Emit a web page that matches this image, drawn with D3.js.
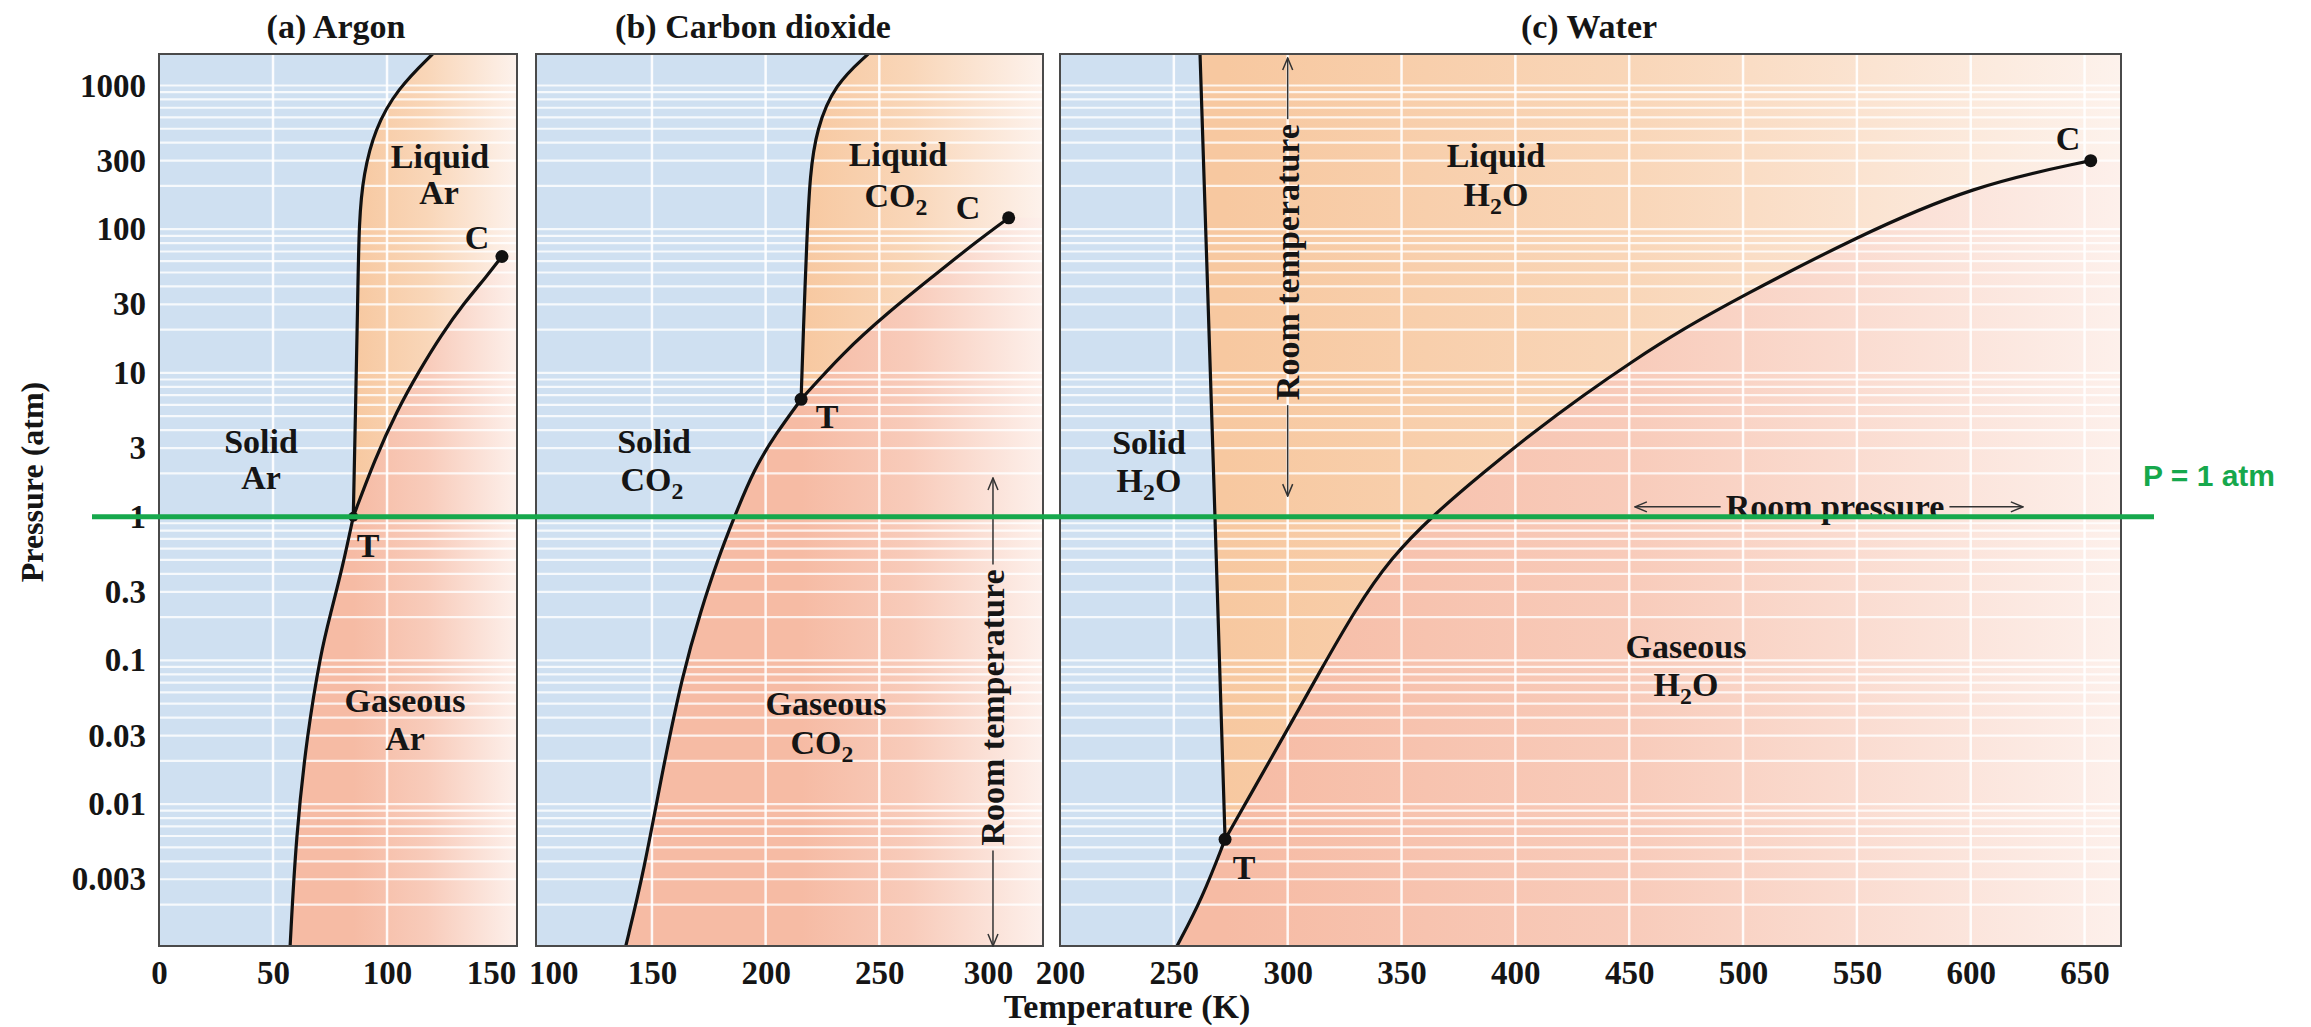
<!DOCTYPE html>
<html>
<head>
<meta charset="utf-8">
<script src="https://cdn.jsdelivr.net/npm/d3@7"></script>
<style>
body { margin: 0; background: #fff; }
svg text { font-family: "Liberation Serif", "Times New Roman", serif; font-weight: bold; fill: #151515; }
</style>
</head>
<body>
<svg id="chart" width="2311" height="1027"></svg>
<script>
// pressure axis (atm), shared by the three panels
const pressureTicks = [0.003, 0.01, 0.03, 0.1, 0.3, 1, 3, 10, 30, 100, 300, 1000];
const pressureLabels = ["0.003", "0.01", "0.03", "0.1", "0.3", "1", "3", "10", "30", "100", "300", "1000"];
const pressureDomain = [0.00103, 1656];

// argon, [K, atm]
const argonTicks = [0, 50, 100, 150];
const argonGrid = [50, 100];
const argonDomain = [0, 157];
const argonSublimation = [[57.5, 0.00103], [60.1, 0.006], [64.9, 0.0303], [71.1, 0.116], [75, 0.204], [80.5, 0.447], [85.2, 1.0]];
const argonMelting = [[85.2, 1.0], [86.3, 6.8], [87.1, 28.4], [87.7, 118.6], [89.7, 242], [94.6, 496], [104.4, 945], [120, 1656]];
const argonVapor = [[85.2, 1.0], [94.6, 2.5], [104.4, 5.48], [114.2, 10.4], [123.9, 18.5], [133.7, 30.5], [143.6, 46.8], [150.4, 64.6]];

// carbon dioxide
const co2Ticks = [100, 150, 200, 250, 300];
const co2Grid = [150, 200, 250];
const co2Domain = [99, 322];
const co2Sublimation = [[138.5, 0.00103], [146.6, 0.0035], [154.8, 0.0176], [163.5, 0.0806], [171.4, 0.219], [179.2, 0.517],
  [186.1, 0.984], [195, 2.16], [204.8, 3.83], [215.6, 6.55]];
const co2Melting = [[215.6, 6.55], [216.6, 19.8], [218.1, 83], [219.5, 242], [222.4, 496], [230.3, 1014], [245.1, 1656]];
const co2Vapor = [[215.6, 6.55], [234.2, 13.9], [253.9, 26.4], [273.5, 46.8], [293.1, 83], [306.9, 120]];

// water
const waterTicks = [200, 250, 300, 350, 400, 450, 500, 550, 600, 650];
const waterGrid = [250, 300, 350, 400, 450, 500, 550, 600, 650];
const waterDomain = [200, 666];
const waterSublimation = [[251.4, 0.00103], [262.4, 0.0022], [272.5, 0.00569]];
const waterMelting = [[272.5, 0.00569], [268.1, 1.0], [261.5, 1656]];
const waterVapor = [[272.5, 0.00569], [283.5, 0.0115], [298.9, 0.031], [314.3, 0.0844], [329.7, 0.226], [345.1, 0.512],
  [363.6, 1.016], [385.6, 2.01], [407.5, 3.82], [429.5, 6.94], [451.4, 12.05], [473.4, 20.1], [498, 33.2],
  [549.1, 87.5], [600.9, 201], [652.7, 300]];

// room conditions
const roomTemperature = 300;
const roomTempSpanCO2 = [0.00103, 1.86];
const roomTempSpanWater = [1.39, 1553];
const roomTempTextCO2 = 0.047;
const roomTempTextWater = 59;
const roomPressure = 1.17;
const roomPressureSpan = [452.5, 622.9];
const roomPressureText = 540.4;

const svg = d3.select("#chart");
const defs = svg.append("defs");
const yTop = 54, yBottom = 946;
const y = d3.scaleLog().domain(pressureDomain).range([yBottom, yTop]);

const solidColor = "#cfe0f1";
const liquidStops = [[0, "#f7c8a0"], [0.45, "#f9d6b8"], [1, "#fdf2ec"]];
const gasStops = [[0, "#f6bba4"], [0.45, "#f8cbba"], [1, "#fdf0eb"]];

const AR = [["Ar", 0]], CO2 = [["CO", 0], ["2", 1]], H2O = [["H", 0], ["2", 1], ["O", 0]];

const panels = [
  {key: "ar", title: "(a) Argon", titleX: 336, left: 159, right: 517, domain: argonDomain, ticks: argonTicks, grid: argonGrid,
   shift: {150: -10}, subl: argonSublimation, melt: argonMelting, vap: argonVapor, tripleR: 5,
   labels: [
     {t: [["Liquid", 0]], x: 440, y: 168}, {t: AR, x: 439, y: 204},
     {t: [["Solid", 0]], x: 261, y: 453}, {t: AR, x: 261, y: 489},
     {t: [["Gaseous", 0]], x: 405, y: 712}, {t: AR, x: 405, y: 750},
     {t: [["C", 0]], x: 477, y: 249}, {t: [["T", 0]], x: 368, y: 557}]},
  {key: "co2", title: "(b) Carbon dioxide", titleX: 753, left: 536, right: 1043, domain: co2Domain, ticks: co2Ticks, grid: co2Grid,
   shift: {100: 15, 300: -5}, subl: co2Sublimation, melt: co2Melting, vap: co2Vapor, tripleR: 6.5,
   labels: [
     {t: [["Liquid", 0]], x: 898, y: 166}, {t: CO2, x: 896, y: 207},
     {t: [["Solid", 0]], x: 654, y: 453}, {t: CO2, x: 652, y: 491},
     {t: [["Gaseous", 0]], x: 826, y: 715}, {t: CO2, x: 822, y: 754},
     {t: [["C", 0]], x: 968, y: 219}, {t: [["T", 0]], x: 827, y: 428}]},
  {key: "h2o", title: "(c) Water", titleX: 1589, left: 1060, right: 2121, domain: waterDomain, ticks: waterTicks, grid: waterGrid,
   shift: {}, subl: waterSublimation, melt: waterMelting, vap: waterVapor, tripleR: 6.5,
   labels: [
     {t: [["Liquid", 0]], x: 1496, y: 167}, {t: H2O, x: 1496, y: 206},
     {t: [["Solid", 0]], x: 1149, y: 454}, {t: H2O, x: 1149, y: 492},
     {t: [["Gaseous", 0]], x: 1686, y: 658}, {t: H2O, x: 1686, y: 696},
     {t: [["C", 0]], x: 2068, y: 150}, {t: [["T", 0]], x: 1244, y: 879}]}
];

function makeGradient(id, x1, x2, stops) {
  const lg = defs.append("linearGradient").attr("id", id)
    .attr("gradientUnits", "userSpaceOnUse")
    .attr("x1", x1).attr("x2", x2).attr("y1", 0).attr("y2", 0);
  stops.forEach(s => lg.append("stop").attr("offset", s[0]).attr("stop-color", s[1]));
}

function addLabel(parent, parts, x0, y0, size) {
  const t = parent.append("text").attr("x", x0).attr("y", y0)
    .attr("text-anchor", "middle").attr("font-size", size);
  let sub = false;
  parts.forEach(p => {
    const ts = t.append("tspan").text(p[0]);
    if (p[1] && !sub) { ts.attr("font-size", size * 0.7).attr("dy", 8); sub = true; }
    else if (!p[1] && sub) { ts.attr("dy", -8); sub = false; }
  });
  return t;
}

// minor log gridlines
const minorPressures = [];
for (let n = -3; n <= 3; n++) {
  for (let k = 1; k <= 9; k++) {
    const v = k * Math.pow(10, n);
    if (v > pressureDomain[0] && v < pressureDomain[1]) minorPressures.push(v);
  }
}

const scales = {};

panels.forEach(p => {
  const x = d3.scaleLinear().domain(p.domain).range([p.left, p.right]);
  scales[p.key] = x;
  // basis spline smooths out the small reading errors in the points
  const line = d3.line().x(d => x(d[0])).y(d => y(d[1])).curve(d3.curveBasis);
  const triple = p.melt[0], crit = p.vap[p.vap.length - 1];

  defs.append("clipPath").attr("id", "clip-" + p.key)
    .append("rect").attr("x", p.left).attr("y", yTop)
    .attr("width", p.right - p.left).attr("height", yBottom - yTop);
  makeGradient("gas-" + p.key, x(triple[0]), p.right, gasStops);
  makeGradient("liq-" + p.key, x(triple[0]), p.right, liquidStops);

  const body = svg.append("g").attr("clip-path", `url(#clip-${p.key})`);

  body.append("rect").attr("x", p.left).attr("y", yTop)
    .attr("width", p.right - p.left).attr("height", yBottom - yTop)
    .attr("fill", `url(#gas-${p.key})`);

  const liquidPath = line(p.melt) + `L${p.right},${yTop}L${p.right},${y(crit[1])}` +
    line(p.vap.slice().reverse()).replace(/^M/, "L") + "Z";
  body.append("path").attr("d", liquidPath).attr("fill", `url(#liq-${p.key})`);

  const solidPath = line(p.subl) + line(p.melt).replace(/^M/, "L") +
    `L${p.left},${yTop}L${p.left},${yBottom}Z`;
  body.append("path").attr("d", solidPath).attr("fill", solidColor);

  // white grid
  body.append("g").selectAll("line").data(minorPressures).enter().append("line")
    .attr("x1", p.left).attr("x2", p.right)
    .attr("y1", d => y(d)).attr("y2", d => y(d))
    .attr("stroke", "#fff").attr("stroke-width", 2.2).attr("stroke-opacity", 0.8);
  body.append("g").selectAll("line").data(p.grid).enter().append("line")
    .attr("x1", d => x(d)).attr("x2", d => x(d))
    .attr("y1", yTop).attr("y2", yBottom)
    .attr("stroke", "#fff").attr("stroke-width", 2.5).attr("stroke-opacity", 0.9);

  // phase boundaries
  [p.subl, p.melt, p.vap].forEach(c => {
    body.append("path").attr("d", line(c))
      .attr("fill", "none").attr("stroke", "#111").attr("stroke-width", 3.2);
  });

  svg.append("rect").attr("x", p.left).attr("y", yTop)
    .attr("width", p.right - p.left).attr("height", yBottom - yTop)
    .attr("fill", "none").attr("stroke", "#4a4a4a").attr("stroke-width", 2);

  svg.append("circle").attr("cx", x(triple[0])).attr("cy", y(triple[1])).attr("r", p.tripleR).attr("fill", "#111");
  svg.append("circle").attr("cx", x(crit[0])).attr("cy", y(crit[1])).attr("r", 6.5).attr("fill", "#111");

  // axis
  const ax = svg.append("g").attr("transform", `translate(0,${yBottom})`)
    .call(d3.axisBottom(x).tickValues(p.ticks).tickSize(0).tickPadding(15));
  ax.select(".domain").remove();
  ax.selectAll("text").attr("font-size", 33).attr("fill", "#151515")
    .attr("dx", d => p.shift[d] || 0);

  addLabel(svg, [[p.title, 0]], p.titleX, 38, 34);
  p.labels.forEach(l => addLabel(svg, l.t, l.x, l.y, 34));
});

// pressure axis on the left panel
const yAxis = svg.append("g").attr("transform", `translate(${panels[0].left},0)`)
  .call(d3.axisLeft(y).tickValues(pressureTicks).tickFormat((d, i) => pressureLabels[i]).tickSize(0).tickPadding(13));
yAxis.select(".domain").remove();
yAxis.selectAll("text").attr("font-size", 33).attr("fill", "#151515");

svg.append("text").attr("transform", "translate(32,482) rotate(-90)")
  .attr("text-anchor", "middle").attr("dominant-baseline", "central")
  .attr("font-size", 32).text("Pressure (atm)");
svg.append("text").attr("x", 1127).attr("y", 1018).attr("text-anchor", "middle")
  .attr("font-size", 34).text("Temperature (K)");

// arrows
defs.append("marker").attr("id", "arrow").attr("viewBox", "0 0 14 12")
  .attr("refX", 13).attr("refY", 6).attr("markerWidth", 14).attr("markerHeight", 12)
  .attr("markerUnits", "userSpaceOnUse").attr("orient", "auto-start-reverse")
  .append("path").attr("d", "M1,1 L13,6 L1,11").attr("fill", "none")
  .attr("stroke", "#333").attr("stroke-width", 1.5);

function splitArrow(x1, y1, x2, y2, cx, cy, half, vertical) {
  const gap = 5;
  const a = vertical ? [x1, y1, cx, cy - half - gap] : [x1, y1, cx - half - gap, cy];
  const b = vertical ? [cx, cy + half + gap, x2, y2] : [cx + half + gap, cy, x2, y2];
  svg.append("line").attr("x1", a[2]).attr("y1", a[3]).attr("x2", a[0]).attr("y2", a[1])
    .attr("stroke", "#333").attr("stroke-width", 1.5).attr("marker-end", "url(#arrow)");
  svg.append("line").attr("x1", b[0]).attr("y1", b[1]).attr("x2", b[2]).attr("y2", b[3])
    .attr("stroke", "#333").attr("stroke-width", 1.5).attr("marker-end", "url(#arrow)");
}

function roomTempArrow(x, span, textP) {
  const cx = x(roomTemperature), cy = y(textP);
  const t = svg.append("text").attr("transform", `translate(${cx},${cy}) rotate(-90)`)
    .attr("text-anchor", "middle").attr("dominant-baseline", "central")
    .attr("font-size", 34).text("Room temperature");
  const half = t.node().getComputedTextLength() / 2;
  splitArrow(cx, y(span[1]), cx, y(span[0]), cx, cy, half, true);
}
roomTempArrow(scales.co2, roomTempSpanCO2, roomTempTextCO2);
roomTempArrow(scales.h2o, roomTempSpanWater, roomTempTextWater);

{
  const x = scales.h2o;
  const cx = x(roomPressureText), cy = y(roomPressure);
  const t = svg.append("text").attr("x", cx).attr("y", cy)
    .attr("text-anchor", "middle").attr("dominant-baseline", "central")
    .attr("font-size", 34).text("Room pressure");
  const half = t.node().getComputedTextLength() / 2;
  splitArrow(x(roomPressureSpan[0]), cy, x(roomPressureSpan[1]), cy, cx, cy, half, false);
}

// 1 atm reference line
svg.append("line").attr("x1", 92).attr("x2", 2154).attr("y1", y(1)).attr("y2", y(1))
  .attr("stroke", "#16a84c").attr("stroke-width", 5);
svg.append("text").attr("x", 2143).attr("y", 486)
  .style("font-family", "'Liberation Sans', Arial, sans-serif").style("fill", "#16a84c")
  .attr("font-size", 30).text("P = 1 atm");
</script>
</body>
</html>
